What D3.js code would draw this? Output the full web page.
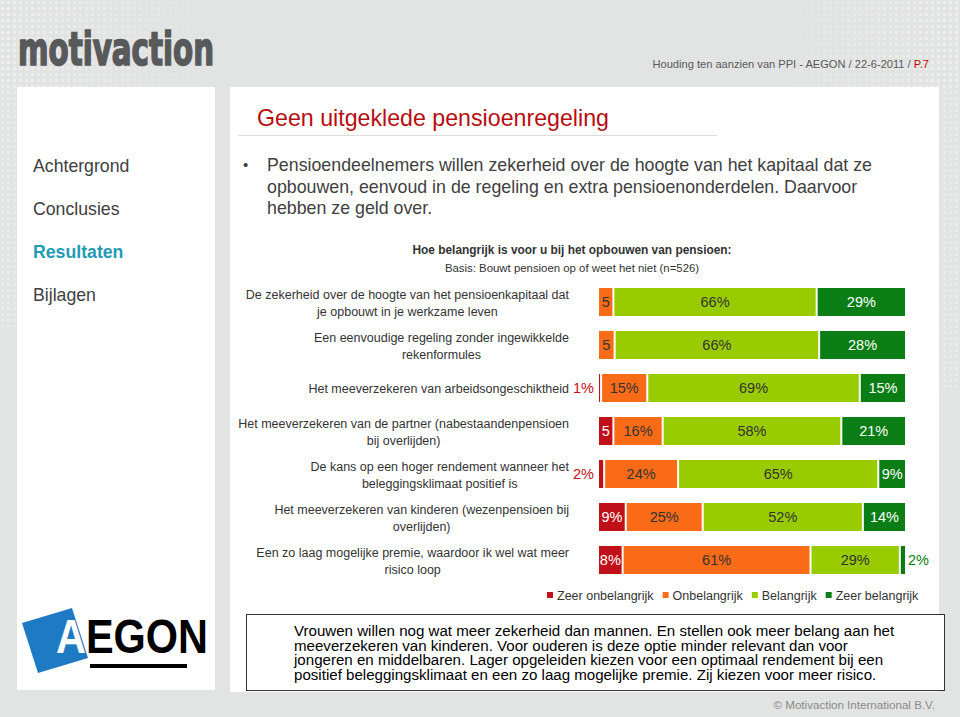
<!DOCTYPE html>
<html><head><meta charset="utf-8">
<script src="https://cdn.jsdelivr.net/npm/d3@7"></script>
<style>
body{margin:0;background:#e2e3e3}
svg{display:block;font-family:"Liberation Sans",Arial,Helvetica,sans-serif}
</style>
</head><body><svg id="c" width="960" height="717"></svg>
<script>
// ---------- data ----------
const categories = [
  ["De zekerheid over de hoogte van het pensioenkapitaal dat", "je opbouwt in je werkzame leven"],
  ["Een eenvoudige regeling zonder ingewikkelde", "rekenformules"],
  ["Het meeverzekeren van arbeidsongeschiktheid"],
  ["Het meeverzekeren van de partner (nabestaandenpensioen", "bij overlijden)"],
  ["De kans op een hoger rendement wanneer het", "beleggingsklimaat positief is"],
  ["Het meeverzekeren van kinderen (wezenpensioen bij", "overlijden)"],
  ["Een zo laag mogelijke premie, waardoor ik wel wat meer", "risico loop"]
];
const seriesNames = ["Zeer onbelangrijk", "Onbelangrijk", "Belangrijk", "Zeer belangrijk"];
const zeerOnbelangrijk = [0, 0, 1, 5, 2, 9, 8];
const onbelangrijk     = [5, 5.4, 15, 16, 24, 25, 61];
const belangrijk       = [66, 66.4, 69, 58, 65, 52, 29];
const zeerBelangrijk   = [29, 28.2, 15, 21, 9, 14, 2];
const navItems = ["Achtergrond", "Conclusies", "Resultaten", "Bijlagen"];
const chartTitle = "Hoe belangrijk is voor u bij het opbouwen van pensioen:";
const chartSubtitle = "Basis: Bouwt pensioen op of weet het niet (n=526)";
const pageTitle = "Geen uitgeklede pensioenregeling";
const bulletLines = [
  "Pensioendeelnemers willen zekerheid over de hoogte van het kapitaal dat ze",
  "opbouwen, eenvoud in de regeling en extra pensioenonderdelen. Daarvoor",
  "hebben ze geld over."
];
const boxLines = [
  "Vrouwen willen nog wat meer zekerheid dan mannen. En stellen ook meer belang aan het",
  "meeverzekeren van kinderen. Voor ouderen is deze optie minder relevant dan voor",
  "jongeren en middelbaren. Lager opgeleiden kiezen voor een optimaal rendement bij een",
  "positief beleggingsklimaat en een zo laag mogelijke premie. Zij kiezen voor meer risico."
];

// ---------- styles ----------
const colors = ["#c0101a", "#f96b17", "#99cc00", "#0a7d14"];
const innerText = ["#ffffff", "#333333", "#333333", "#ffffff"];

const svg = d3.select("#c");
const defs = svg.append("defs");

// background
svg.append("rect").attr("width", 960).attr("height", 717).attr("fill", "#e2e3e3");

// dot pattern
const pat = defs.append("pattern").attr("id", "dots").attr("width", 6).attr("height", 6)
  .attr("patternUnits", "userSpaceOnUse");
pat.append("rect").attr("x", 1).attr("y", 1).attr("width", 3).attr("height", 3).attr("fill", "#f0f0f0");
const g1 = defs.append("linearGradient").attr("id", "fadeL").attr("x1", 0).attr("x2", 1);
g1.append("stop").attr("offset", 0).attr("stop-color", "#fff").attr("stop-opacity", 0.9);
g1.append("stop").attr("offset", 1).attr("stop-color", "#fff").attr("stop-opacity", 0);
const g2 = defs.append("linearGradient").attr("id", "fadeR").attr("x1", 0).attr("x2", 1);
g2.append("stop").attr("offset", 0).attr("stop-color", "#fff").attr("stop-opacity", 0);
g2.append("stop").attr("offset", 1).attr("stop-color", "#fff").attr("stop-opacity", 0.9);
const mL = defs.append("mask").attr("id", "mL");
mL.append("rect").attr("x", 0).attr("y", 0).attr("width", 230).attr("height", 87).attr("fill", "url(#fadeL)");
mL.append("rect").attr("x", 0).attr("y", 87).attr("width", 17).attr("height", 240).attr("fill", "#fff").attr("opacity", 0.6);
const mR = defs.append("mask").attr("id", "mR");
mR.append("rect").attr("x", 760).attr("y", 0).attr("width", 200).attr("height", 87).attr("fill", "url(#fadeR)");
mR.append("rect").attr("x", 940).attr("y", 87).attr("width", 20).attr("height", 300).attr("fill", "#fff").attr("opacity", 0.6);
svg.append("rect").attr("width", 960).attr("height", 717).attr("fill", "url(#dots)").attr("mask", "url(#mL)");
svg.append("rect").attr("width", 960).attr("height", 717).attr("fill", "url(#dots)").attr("mask", "url(#mR)");

// panels
svg.append("rect").attr("x", 17).attr("y", 87).attr("width", 198).attr("height", 603).attr("fill", "#fff");
svg.append("rect").attr("x", 230).attr("y", 87).attr("width", 709).attr("height", 605).attr("fill", "#fff");

// motivaction logo
svg.append("text").attr("x", 18).attr("y", 65)
  .attr("font-family", "'DejaVu Sans Condensed','DejaVu Sans',sans-serif")
  .attr("font-weight", "bold").attr("font-size", 46).attr("fill", "#58595b")
  .attr("stroke", "#58595b").attr("stroke-width", 1.6)
  .attr("textLength", 196).attr("lengthAdjust", "spacingAndGlyphs")
  .text("motivaction");

// header right
const hdr = svg.append("text").attr("x", 929).attr("y", 68).attr("text-anchor", "end")
  .attr("font-size", 11.1).attr("fill", "#595959");
hdr.append("tspan").text("Houding ten aanzien van PPI - AEGON / 22-6-2011 / ");
hdr.append("tspan").attr("fill", "#c00000").text("P.7");

// nav
navItems.forEach((t, i) => {
  svg.append("text").attr("x", 33).attr("y", 172 + i * 43)
    .attr("font-size", 17.7)
    .attr("font-weight", t === "Resultaten" ? "bold" : "normal")
    .attr("fill", t === "Resultaten" ? "#1e9bb5" : "#404040")
    .text(t);
});

// page title
svg.append("text").attr("x", 257).attr("y", 126).attr("font-size", 23.2).attr("fill", "#b80d12").text(pageTitle);
svg.append("line").attr("x1", 238).attr("x2", 717).attr("y1", 135.5).attr("y2", 135.5)
  .attr("stroke", "#dcdcdc").attr("stroke-width", 1);

// bullet
svg.append("text").attr("x", 243).attr("y", 170).attr("font-size", 15).attr("fill", "#404040").text("•");
bulletLines.forEach((t, i) => {
  svg.append("text").attr("x", 267).attr("y", 171 + i * 21.5).attr("font-size", 17.8)
    .attr("fill", "#404040").text(t);
});

// chart title
svg.append("text").attr("x", 572).attr("y", 254).attr("text-anchor", "middle")
  .attr("font-size", 11.9).attr("font-weight", "bold").attr("fill", "#333").text(chartTitle);
svg.append("text").attr("x", 572).attr("y", 272).attr("text-anchor", "middle")
  .attr("font-size", 11.4).attr("fill", "#333").text(chartSubtitle);

// ---------- chart ----------
const rows = categories.map((c, i) => ({
  i, lines: c,
  vals: [zeerOnbelangrijk[i], onbelangrijk[i], belangrijk[i], zeerBelangrijk[i]]
}));
const y = d3.scaleBand().domain(d3.range(categories.length))
  .range([280.5, 280.5 + 7 * 43]).paddingInner(15 / 43).paddingOuter(7.5 / 43);
const x = d3.scaleLinear().domain([0, 100]).range([599, 907]);

const stack = d3.stack().keys([0, 1, 2, 3]).value((d, k) => d.vals[k]);
const stacked = stack(rows);

const chart = svg.append("g");
stacked.forEach((layer, k) => {
  layer.forEach((seg, r) => {
    const v = rows[r].vals[k];
    if (v <= 0) return;
    const x0 = x(seg[0]), x1 = x(seg[1]);
    const w = Math.max(1, x1 - x0 - 2);
    const yy = y(r), h = y.bandwidth();
    chart.append("rect").attr("x", x0).attr("y", yy).attr("width", w).attr("height", h)
      .attr("fill", colors[k]);
    const rv = Math.round(v);
    const cy = yy + h / 2 + 5;
    if (rv <= 2) {
      if (k === 0) {
        chart.append("text").attr("x", x(0) - 5).attr("y", cy).attr("text-anchor", "end")
          .attr("font-size", 14.5).attr("fill", colors[0]).text(rv + "%");
      } else {
        chart.append("text").attr("x", x(100) + 1).attr("y", cy).attr("text-anchor", "start")
          .attr("font-size", 14.5).attr("fill", colors[3]).text(rv + "%");
      }
    } else {
      chart.append("text").attr("x", x0 + w / 2).attr("y", cy).attr("text-anchor", "middle")
        .attr("font-size", 14.5).attr("fill", innerText[k])
        .text(w < 20 ? String(rv) : rv + "%");
    }
  });
});

// category labels
rows.forEach(r => {
  const c = y(r.i) + y.bandwidth() / 2;
  const g = svg.append("g");
  const ts = r.lines.map((t, j) => g.append("text").attr("font-size", 12.5).attr("fill", "#333")
    .attr("text-anchor", "middle").text(t));
  const maxW = d3.max(ts, t => t.node().getComputedTextLength());
  const cx = 569 - maxW / 2;
  ts.forEach((t, j) => {
    const yy = r.lines.length === 1 ? c + 4.5 : (j === 0 ? c - 3 : c + 13.5);
    t.attr("x", cx).attr("y", yy);
  });
});

// legend
let lx = 547;
seriesNames.forEach((n, k) => {
  svg.append("rect").attr("x", lx).attr("y", 592).attr("width", 6).attr("height", 6).attr("fill", colors[k]);
  const t = svg.append("text").attr("x", lx + 10).attr("y", 599.5).attr("font-size", 12.5)
    .attr("fill", "#333").text(n);
  lx += 10 + t.node().getComputedTextLength() + 9;
});

// bottom box
svg.append("rect").attr("x", 246.5).attr("y", 614.5).attr("width", 698).attr("height", 76)
  .attr("fill", "#fff").attr("stroke", "#333").attr("stroke-width", 1);
const box = svg.append("text").attr("x", 294).attr("y", 636).attr("font-size", 15.1).attr("fill", "#000");
boxLines.forEach((t, i) => {
  box.append("tspan").attr("x", 294).attr("dy", i === 0 ? 0 : 14.5).text(t);
});

// footer
svg.append("text").attr("x", 935).attr("y", 709).attr("text-anchor", "end")
  .attr("font-size", 11.6).attr("fill", "#8a8a8a").text("© Motivaction International B.V.");

// AEGON logo
svg.append("polygon").attr("points", "22,623 72,608 88,658 38,673").attr("fill", "#1f7ac4");
const aeg = svg.append("text").attr("x", 56).attr("y", 653).attr("font-size", 48).attr("font-weight", "bold")
  .attr("fill", "#000").attr("textLength", 152).attr("lengthAdjust", "spacingAndGlyphs");
aeg.append("tspan").attr("fill", "#fff").text("A");
aeg.append("tspan").text("EGON");
svg.append("rect").attr("x", 90).attr("y", 664).attr("width", 97).attr("height", 4).attr("fill", "#000");
</script>
</body></html>
